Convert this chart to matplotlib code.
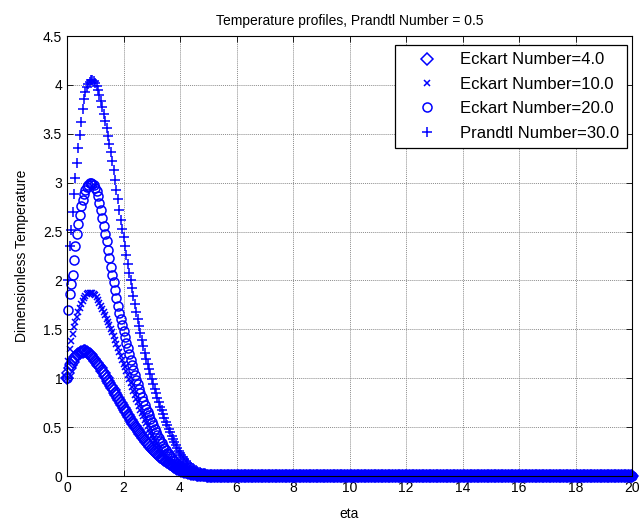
import numpy as np
import matplotlib
matplotlib.use("Agg")
import matplotlib.pyplot as plt

plt.rcParams['font.family'] = ['Liberation Sans', 'DejaVu Sans']

# eta grid where the profiles are non-zero (read every 0.05)
eta_hump = np.round(np.arange(0, 5.0001, 0.05), 2)
# beyond eta = 5 all profiles sit on zero
eta_tail = np.round(np.arange(5.05, 20.0001, 0.05), 2)
tail_values = np.zeros(len(eta_tail))

# Eckart Number = 4.0 (diamonds)
ec4 = [1.00, 1.055, 1.10, 1.14, 1.17, 1.197, 1.22, 1.237, 1.25, 1.261,
       1.268, 1.273, 1.275, 1.274, 1.269, 1.261, 1.25, 1.236, 1.22, 1.201,
       1.18, 1.16, 1.14, 1.12, 1.10, 1.075, 1.05, 1.025, 1.00, 0.975,
       0.95, 0.925, 0.90, 0.875, 0.85, 0.825, 0.80, 0.775, 0.75, 0.725,
       0.70, 0.675, 0.65, 0.625, 0.60, 0.577, 0.555, 0.532, 0.51, 0.49,
       0.47, 0.45, 0.43, 0.41, 0.39, 0.37, 0.35, 0.332, 0.315, 0.297,
       0.28, 0.265, 0.25, 0.235, 0.22, 0.207, 0.195, 0.182, 0.17, 0.16,
       0.15, 0.14, 0.13, 0.12, 0.11, 0.10, 0.09, 0.082, 0.075, 0.067,
       0.06, 0.055, 0.05, 0.045, 0.04, 0.036, 0.032, 0.029, 0.025, 0.022,
       0.02, 0.017, 0.015, 0.013, 0.011, 0.01, 0.008, 0.007, 0.006, 0.005,
       0.004]

# Eckart Number = 10.0 (x)
ec10 = [1.00, 1.18, 1.30, 1.38, 1.45, 1.52, 1.58, 1.63, 1.68, 1.72,
        1.76, 1.79, 1.82, 1.84, 1.86, 1.87, 1.875, 1.875, 1.87, 1.86,
        1.85, 1.83, 1.80, 1.77, 1.74, 1.71, 1.68, 1.645, 1.61, 1.575,
        1.54, 1.505, 1.47, 1.43, 1.39, 1.35, 1.31, 1.27, 1.23, 1.19,
        1.15, 1.11, 1.07, 1.03, 0.99, 0.95, 0.91, 0.87, 0.83, 0.79,
        0.755, 0.72, 0.68, 0.645, 0.61, 0.575, 0.54, 0.51, 0.475, 0.44,
        0.41, 0.38, 0.355, 0.325, 0.30, 0.275, 0.255, 0.23, 0.21, 0.19,
        0.175, 0.155, 0.14, 0.125, 0.115, 0.10, 0.09, 0.08, 0.07, 0.063,
        0.055, 0.048, 0.042, 0.036, 0.03, 0.027, 0.023, 0.02, 0.017, 0.015,
        0.013, 0.011, 0.009, 0.008, 0.006, 0.005, 0.004, 0.004, 0.003, 0.003,
        0.002]

# Eckart Number = 20.0 (circles)
ec20 = [1.00, 1.70, 1.86, 1.96, 2.06, 2.21, 2.35, 2.47, 2.58, 2.67,
        2.76, 2.82, 2.88, 2.92, 2.96, 2.98, 3.00, 3.00, 2.99, 2.98,
        2.95, 2.91, 2.86, 2.79, 2.72, 2.64, 2.56, 2.48, 2.40, 2.31,
        2.23, 2.14, 2.06, 1.98, 1.90, 1.82, 1.74, 1.67, 1.61, 1.54,
        1.48, 1.42, 1.36, 1.31, 1.25, 1.19, 1.14, 1.08, 1.03, 0.98,
        0.94, 0.89, 0.85, 0.81, 0.77, 0.73, 0.69, 0.65, 0.62, 0.58,
        0.55, 0.52, 0.48, 0.45, 0.42, 0.39, 0.36, 0.335, 0.31, 0.285,
        0.265, 0.24, 0.22, 0.20, 0.185, 0.165, 0.15, 0.135, 0.125, 0.11,
        0.10, 0.09, 0.08, 0.07, 0.06, 0.054, 0.047, 0.041, 0.035, 0.031,
        0.027, 0.023, 0.02, 0.017, 0.015, 0.012, 0.01, 0.009, 0.007, 0.006,
        0.005]

# Prandtl Number = 30.0 (plus)
pr30 = [1.00, 2.00, 2.35, 2.52, 2.70, 2.88, 3.05, 3.20, 3.35, 3.49,
        3.62, 3.75, 3.86, 3.93, 3.98, 4.01, 4.03, 4.045, 4.05, 4.04,
        4.02, 3.99, 3.95, 3.90, 3.84, 3.77, 3.70, 3.63, 3.56, 3.48,
        3.40, 3.31, 3.22, 3.13, 3.03, 2.93, 2.83, 2.72, 2.62, 2.53,
        2.44, 2.35, 2.26, 2.17, 2.08, 2.00, 1.92, 1.84, 1.76, 1.68,
        1.61, 1.53, 1.46, 1.39, 1.33, 1.26, 1.20, 1.15, 1.09, 1.04,
        0.99, 0.94, 0.89, 0.85, 0.80, 0.76, 0.71, 0.67, 0.63, 0.59,
        0.555, 0.52, 0.48, 0.445, 0.41, 0.38, 0.35, 0.32, 0.29, 0.26,
        0.235, 0.21, 0.19, 0.17, 0.15, 0.135, 0.12, 0.105, 0.09, 0.08,
        0.07, 0.06, 0.05, 0.043, 0.037, 0.031, 0.025, 0.021, 0.018, 0.015,
        0.012]

labels = ['Eckart Number=4.0', 'Eckart Number=10.0',
          'Eckart Number=20.0', 'Prandtl Number=30.0']

eta = np.concatenate([eta_hump, eta_tail])

fig = plt.figure(figsize=(6.43, 5.23), dpi=100)
ax = fig.add_axes([67 / 643, 1 - 476 / 523, 565 / 643, 440 / 523])

# markers only, like matlab's plot(x, y, 'bd') etc.
styles = [('D', 6.0), ('x', 4.5), ('o', 6.5), ('+', 7.5)]
for vals, (mk, ms), lab in zip([ec4, ec10, ec20, pr30], styles, labels):
    y = np.concatenate([vals, tail_values])
    ax.plot(eta, y, linestyle='none', marker=mk, markersize=ms,
            markerfacecolor='none', markeredgecolor='blue',
            markeredgewidth=1.1, label=lab, clip_on=False)

ax.set_xlim(0, 20)
ax.set_ylim(0, 4.5)
ax.set_xticks(np.arange(0, 21, 2))
ax.set_yticks(np.arange(0, 4.51, 0.5))
ax.set_yticklabels(['0', '0.5', '1', '1.5', '2', '2.5', '3', '3.5', '4', '4.5'])
ax.tick_params(direction='in', top=True, right=True, length=4, labelsize=10,
               width=0.6)
ax.grid(True, color='0.55', linestyle=(0, (1, 1)), linewidth=0.7)
ax.set_axisbelow(True)
for s in ax.spines.values():
    s.set_linewidth(0.8)

ax.set_title('Temperature profiles, Prandtl Number = 0.5', fontsize=10, pad=8)
ax.set_xlabel('eta', fontsize=10, labelpad=9)
ax.set_ylabel('Dimensionless Temperature', fontsize=10, labelpad=10)

leg = ax.legend(loc='upper right', bbox_to_anchor=(627 / 643, 1 - 45 / 523),
                bbox_transform=fig.transFigure, borderaxespad=0,
                numpoints=1, fontsize=12, fancybox=False, framealpha=1,
                edgecolor='black', handlelength=3.0, handletextpad=0.5,
                borderpad=0.45, labelspacing=0.56)
leg.get_frame().set_linewidth(0.9)

plt.savefig('out.png', dpi=100)
